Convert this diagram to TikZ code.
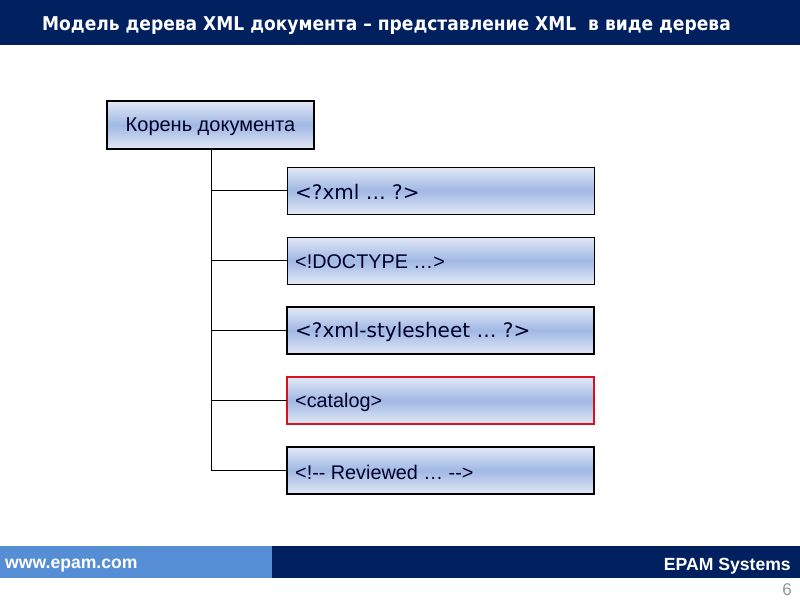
\documentclass[tikz,border=0pt]{standalone}
\usepackage{fontspec}
\setmainfont{Liberation Sans}
\newfontfamily\dvs{DejaVu Sans}
\newfontfamily\dvsb{DejaVu Sans}[FakeStretch=0.9]
\definecolor{navy}{RGB}{0,32,96}
\definecolor{footblue}{RGB}{85,142,213}
\definecolor{boxlight}{RGB}{226,232,246}
\definecolor{boxmid}{RGB}{160,184,228}
\definecolor{redline}{RGB}{210,20,30}
\definecolor{pagegray}{RGB}{150,150,150}
\tikzset{
  elbox/.style={draw=black, line width=1pt, minimum width=307pt, minimum height=47pt,
    top color=boxlight, bottom color=boxlight, middle color=boxmid,
    anchor=north west, inner sep=0pt, outer sep=0pt},
  thickbox/.style={line width=2.2pt},
  eltext/.style={anchor=west, inner sep=0pt, text=black!85!blue},
  conn/.style={draw=black, line width=0.9pt}
}
\begin{document}
\begin{tikzpicture}[x=1pt,y=-1pt]
\useasboundingbox (0,0) rectangle (800,600);
\fill[white] (0,0) rectangle (800,600);
% header
\fill[navy] (0,0) rectangle (800,45);
\node[anchor=west, text=white, font=\dvsb\bfseries\fontsize{19}{22}\selectfont, inner sep=0pt] (title) at (42,26)
  {Модель дерева XML документа – представление XML\ \ в виде дерева};
% footer
\fill[footblue] (0,546) rectangle (272,578);
\fill[navy] (272,546) rectangle (800,578);
\node[anchor=west, text=white, font=\bfseries\fontsize{17.6}{20}\selectfont, inner sep=0pt] (web) at (5,566) {www.epam.com};
\node[anchor=east, text=white, font=\bfseries\fontsize{17.6}{20}\selectfont, inner sep=0pt] (epam) at (791,566) {EPAM Systems};
\node[anchor=east, text=pagegray, font=\fontsize{17}{19}\selectfont, inner sep=0pt] (page) at (792,590) {6};
% root
\node[elbox, thickbox, minimum width=207pt, minimum height=48pt] (root) at (107,101) {};
\node[anchor=center, inner sep=0pt, font=\fontsize{20}{23}\selectfont, text=black!85!blue] (roott) at ([yshift=-2pt]root.center) {Корень документа};
% children
\node[elbox] (b1) at (287,167) {};
\node[elbox] (b2) at (287,237) {};
\node[elbox, thickbox] (b3) at (287,307) {};
\node[elbox, draw=redline, line width=1.8pt] (b4) at (287,377) {};
\node[elbox, thickbox] (b5) at (287,447) {};
\node[eltext, font=\dvs\fontsize{20}{23}\selectfont] (t1) at ([xshift=8pt,yshift=-1.5pt]b1.west) {<?xml … ?>};
\node[eltext, font=\fontsize{19.8}{23}\selectfont] (t2) at ([xshift=8pt,yshift=-1.5pt]b2.west) {<!DOCTYPE …>};
\node[eltext, font=\dvs\fontsize{20}{23}\selectfont] (t3) at ([xshift=8pt,yshift=-1.5pt]b3.west) {<?xml-stylesheet … ?>};
\node[eltext, font=\fontsize{19.8}{23}\selectfont] (t4) at ([xshift=8pt,yshift=-1.5pt]b4.west) {<catalog>};
\node[eltext, font=\fontsize{19.8}{23}\selectfont] (t5) at ([xshift=8pt,yshift=-1.5pt]b5.west) {<!-{}- Reviewed … -{}->};
% connectors
\coordinate (trunk) at (211,0);
\draw[conn] (root.south -| trunk) -- (b5.west -| trunk);
\foreach \b in {b1,b2,b3,b4,b5} {
  \draw[conn] (\b.west -| trunk) -- (\b.west);
}
\end{tikzpicture}
\end{document}
